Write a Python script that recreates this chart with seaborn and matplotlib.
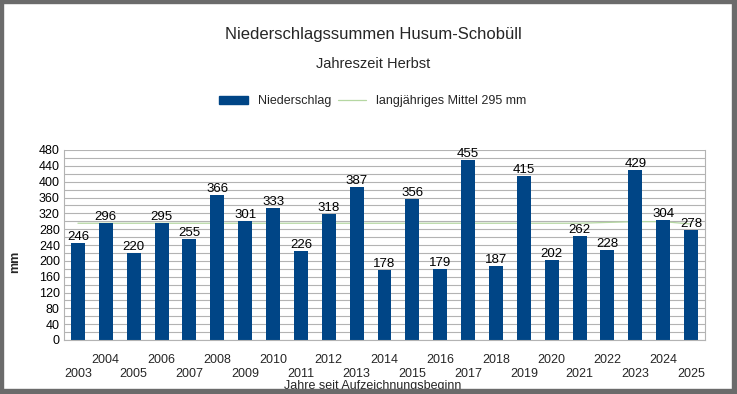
import matplotlib
matplotlib.use("Agg")
import matplotlib.pyplot as plt
import seaborn as sns
import numpy as np
import pandas as pd
from matplotlib.patches import Rectangle, Patch
from matplotlib.lines import Line2D
from matplotlib.ticker import MultipleLocator, FixedLocator

years = [str(y) for y in range(2003, 2026)]
precip = [246, 296, 220, 295, 255, 366, 301, 333, 226, 318, 387, 178, 356,
          179, 455, 187, 415, 202, 262, 228, 429, 304, 278]
mean_vals = [295, 295, 295, 295, 295, 295, 295, 295, 295, 295, 295, 295, 295,
             295, 295, 295, 295, 295, 295, 297, 299, 299, 293]
yticks = list(range(0, 481, 40))

title = "Niederschlagssummen Husum-Schobüll"
subtitle = "Jahreszeit Herbst"
xlabel = "Jahre seit Aufzeichnungsbeginn"
ylabel = "mm"
series_bar = "Niederschlag"
series_line = "langjähriges Mittel 295 mm"

sns.set_theme(style="white")
plt.rcParams['font.family'] = ['Liberation Sans', 'DejaVu Sans']

df = pd.DataFrame({"Jahr": years, "mm": precip})

fig = plt.figure(figsize=(7.37, 3.94), dpi=100)
ax = fig.add_axes([64/737, 1-340/394, (705-64)/737, (340-150)/394])

BLUE = "#004586"
GREEN = "#b5d7a2"
pos = np.arange(len(years))
sns.lineplot(x=pos, y=mean_vals, ax=ax, color=GREEN, linewidth=0.9, zorder=0.8)
sns.barplot(data=df, x="Jahr", y="mm", color=BLUE, width=0.5, ax=ax,
            saturation=1, edgecolor=BLUE, linewidth=0, zorder=1)

for p, v in zip(pos, precip):
    ax.text(p, v, str(v), ha="center", va="bottom", fontsize=9.5, color="black", zorder=3)

ax.set_xlim(-0.5, len(years) - 0.5)
ax.set_ylim(0, 480)
ax.set_yticks(yticks)
ax.set_yticklabels([str(t) for t in yticks], fontsize=9, color="black")
ax.yaxis.set_minor_locator(MultipleLocator(20))
ax.grid(axis="y", which="both", color="#b3b3b3", linewidth=0.8)
ax.set_axisbelow(True)
ax.tick_params(axis="y", which="both", length=0, pad=3)

ax.xaxis.set_major_locator(FixedLocator(np.arange(-0.5, len(years), 1.0)))
ax.xaxis.set_major_formatter(plt.NullFormatter())
labels = [("\n" + y) if i % 2 == 0 else y for i, y in enumerate(years)]
ax.set_xticks(pos, minor=True)
ax.set_xticklabels(labels, minor=True, fontsize=9, linespacing=1.2)
ax.tick_params(axis="x", which="major", length=5, width=0.8, color="#b3b3b3", direction="out")
ax.tick_params(axis="x", which="minor", length=0, pad=10)
ax.set_xlabel("")
ax.set_ylabel("")

for s in ["left", "right", "bottom"]:
    ax.spines[s].set_visible(True)
    ax.spines[s].set_color("#b3b3b3")
    ax.spines[s].set_linewidth(0.8)
ax.spines["top"].set_visible(False)

cx = 373/737
fig.text(cx, 1-34/394, title, ha="center", va="center", fontsize=12)
fig.text(cx, 1-64/394, subtitle, ha="center", va="center", fontsize=10.5)
fig.text(cx, 1-386/394, xlabel, ha="center", va="center", fontsize=9)
fig.text(15/737, 1-262/394, ylabel, ha="center", va="center", rotation=90,
         fontsize=9, fontweight="bold")

handles = [Patch(facecolor=BLUE, edgecolor=BLUE),
           Line2D([0], [0], color=GREEN, linewidth=0.9)]
fig.legend(handles, [series_bar, series_line], loc="center",
           bbox_to_anchor=(cx, 1-101/394), ncol=2, frameon=False,
           fontsize=9, handlelength=2.3, handletextpad=0.8, columnspacing=0.5,
           handleheight=0.6)

# window frame
fc = "#6b6b6b"
fig.patches.append(Rectangle((0, 1-3/394), 1, 3/394, transform=fig.transFigure, color=fc, zorder=10))
fig.patches.append(Rectangle((0, 0), 3/737, 1, transform=fig.transFigure, color=fc, zorder=10))
fig.patches.append(Rectangle((1-5/737, 0), 5/737, 1, transform=fig.transFigure, color=fc, zorder=10))
fig.patches.append(Rectangle((0, 0), 1, 5/394, transform=fig.transFigure, color=fc, zorder=10))

fig.savefig("out.png", dpi=100)
